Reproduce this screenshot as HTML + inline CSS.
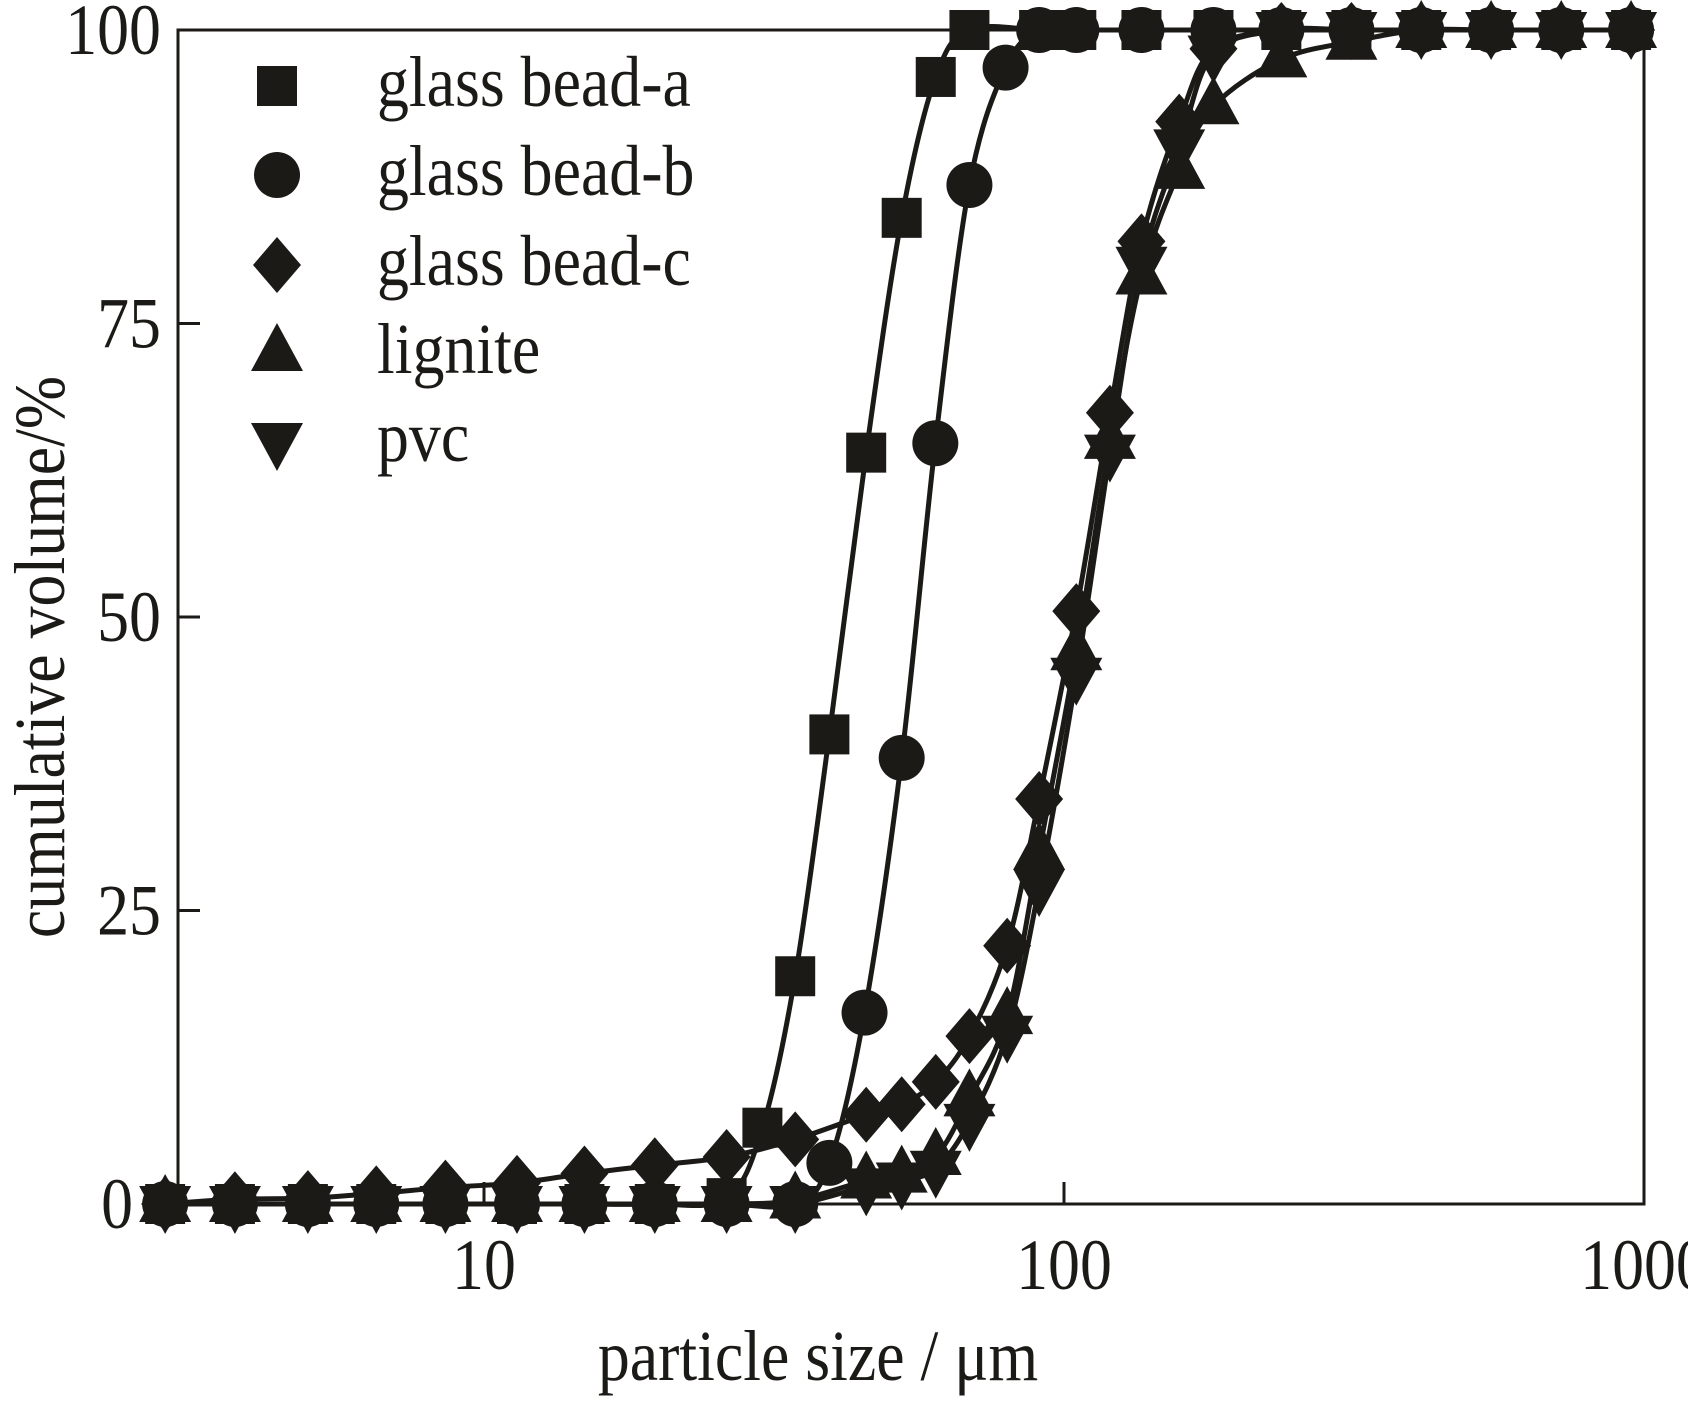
<!DOCTYPE html>
<html><head><meta charset="utf-8">
<style>
html,body{margin:0;padding:0;background:#fff;overflow:hidden}
svg{display:block}
text{font-family:"Liberation Serif",serif;fill:#1c1a17}
</style></head>
<body>
<svg id="chart" width="1688" height="1402" viewBox="0 0 1688 1402" xmlns="http://www.w3.org/2000/svg">
<g id="plot"></g>
<g id="axes">
<rect x="178" y="30" width="1466" height="1174" fill="none" stroke="#1c1a17" stroke-width="3"/>
</g>
<g id="ticks"></g>
<text class="cond" transform="translate(64,657) rotate(-90)" text-anchor="middle" font-size="62">cumulative volume/%</text>
<text class="cond" x="818" y="1380" text-anchor="middle" font-size="62">particle size / μm</text>
<g id="legend"></g>
</svg>
<script>
const xTicks = [10, 100, 1000];
const xTickLabels = ["10", "100", "1000"];
const yTicks = [0, 25, 50, 75, 100];
const yTickLabels = ["0", "25", "50", "75", "100"];
const seriesNames = ["glass bead-a", "glass bead-b", "glass bead-c", "lignite", "pvc"];
const seriesMarkers = ["square", "circle", "diamond", "triangle", "down"];
const sizesA = [2.82,3.72,4.97,6.52,8.58,11.4,14.9,19.7,26.2,30.2,34.4,39.4,45.6,52.5,60.1,68.7,90.6,105,136,181,237,313,413,545,720,950];
const valuesA = [0,0,0,0,0,0,0,0,0.5,6.5,19.4,40,64,84,96,100,100,100,100,100,100,100,100,100,100,100];
const sizesB = [2.82,3.72,4.97,6.52,8.58,11.4,14.9,19.7,26.2,34.4,39.4,45.3,52.5,60,68.7,79.3,90.6,105,136,181,237,313,413,545,720,950];
const valuesB = [0,0,0,0,0,0,0,0,0,0,3.5,16.3,38,64.8,86.8,96.8,100,100,100,100,100,100,100,100,100,100];
const sizesC = [2.82,3.72,4.97,6.52,8.58,11.4,14.9,19.7,26.2,34.4,45.6,52.5,60.1,68.7,79.8,90.6,105,120,136,158,181,237,313,413,545,720,950];
const valuesC = [0,0.4,0.5,0.9,1.4,1.8,2.6,3.3,4,5.5,7.6,8.5,10.4,14.3,22,34.5,50.5,67.4,82,92.2,98.4,100,100,100,100,100,100];
const sizesL = [2.82,3.72,4.97,6.52,8.58,11.4,14.9,19.7,26.2,34.4,45.6,52.5,60.1,68.7,79.8,90.6,105,120,136,158,181,237,313,413,545,720,950];
const valuesL = [0,0,0,0,0,0,0,0,0,0.3,2,2.5,4,9,16,30,47,65,79,88,93.5,97.5,99,100,100,100,100];
const sizesP = [2.82,3.72,4.97,6.52,8.58,11.4,14.9,19.7,26.2,34.4,45.6,52.5,60.1,68.7,79.8,90.6,105,120,136,158,181,237,313,413,545,720,950];
const valuesP = [0,0,0,0,0,0,0,0,0,0,1.5,2,3,7,14.5,27,45,64,80,90,98,100,100,100,100,100,100];

const NS = "http://www.w3.org/2000/svg";
const C = "#1c1a17";
function xs(v){ return 1064 + (Math.log10(v) - 2) * 580; }
function ys(v){ return 1204 - v * 11.74; }
function mk(tag, attrs, parent){ const e = document.createElementNS(NS, tag); for (const k in attrs) e.setAttribute(k, attrs[k]); parent.appendChild(e); return e; }

function marker(type, cx, cy, parent){
  let e;
  if (type === "square") e = mk("rect", {x:cx-20, y:cy-20, width:40, height:40, fill:C}, parent);
  else if (type === "circle") e = mk("circle", {cx:cx, cy:cy, r:23, fill:C}, parent);
  else if (type === "diamond") e = mk("polygon", {points:`${cx},${cy-28} ${cx+24},${cy} ${cx},${cy+28} ${cx-24},${cy}`, fill:C}, parent);
  else if (type === "triangle") e = mk("polygon", {points:`${cx},${cy-30} ${cx+26},${cy+18} ${cx-26},${cy+18}`, fill:C}, parent);
  else e = mk("polygon", {points:`${cx},${cy+30} ${cx+26},${cy-18} ${cx-26},${cy-18}`, fill:C}, parent);
  return e;
}

function smoothPath(pts){
  let d = `M${pts[0][0]},${pts[0][1]}`;
  for (let i = 0; i < pts.length - 1; i++){
    const p0 = pts[Math.max(0,i-1)], p1 = pts[i], p2 = pts[i+1], p3 = pts[Math.min(pts.length-1,i+2)];
    const c1x = p1[0] + (p2[0]-p0[0])/6, c1y = p1[1] + (p2[1]-p0[1])/6;
    const c2x = p2[0] - (p3[0]-p1[0])/6, c2y = p2[1] - (p3[1]-p1[1])/6;
    d += ` C${c1x},${c1y} ${c2x},${c2y} ${p2[0]},${p2[1]}`;
  }
  return d;
}

const plot = document.getElementById("plot");
const allSizes = [sizesA, sizesB, sizesC, sizesL, sizesP];
const allValues = [valuesA, valuesB, valuesC, valuesL, valuesP];
for (let s = 0; s < 5; s++){
  const g = mk("g", {}, plot);
  
  
  const pts = allSizes[s].map((x,i) => [xs(x), ys(allValues[s][i])]);
  const line = mk("path", {d:smoothPath(pts), fill:"none", stroke:C, "stroke-width":5}, g);
  
  
  pts.forEach(p => {
    const m = marker(seriesMarkers[s], p[0], p[1], g);
    
    
  });
}

const ticks = document.getElementById("ticks");
xTicks.forEach((t,i) => {
  const x = xs(t);
  if (t < 1000){
    const l = mk("line", {x1:x, x2:x, y1:1204, y2:1182, stroke:C, "stroke-width":3}, ticks);
    
    
  }
  const tx = mk("text", {x:x, y:1289, "text-anchor":"middle", "font-size":62, "class":"cond"}, ticks);
  
  
  tx.textContent = xTickLabels[i];
});
yTicks.forEach((t,i) => {
  const y = ys(t);
  if (t > 0 && t < 100){
    const l = mk("line", {x1:178, x2:200, y1:y, y2:y, stroke:C, "stroke-width":3}, ticks);
    
    
  }
  const tx = mk("text", {x: t === 0 ? 133 : 161, y:y+24, "text-anchor":"end", "font-size":62, "class":"cond"}, ticks);
  
  
  tx.textContent = yTickLabels[i];
});

const legend = document.getElementById("legend");
const legendY = [86, 175, 265, 353, 441];
for (let s = 0; s < 5; s++){
  const g = mk("g", {}, legend);
  
  
  marker(seriesMarkers[s], 277, legendY[s], g);
  const tx = mk("text", {x:377, y:legendY[s]+20, "font-size":62, "class":"cond"}, g);
  tx.textContent = seriesNames[s];
}

// make text taller but keep widths (condensed look of reference)
document.querySelectorAll("text.cond").forEach(t => {
  const w = t.getComputedTextLength();
  t.setAttribute("font-size", 72);
  t.setAttribute("textLength", (w * 1.03).toFixed(1));
  t.setAttribute("lengthAdjust", "spacingAndGlyphs");
});
</script>
</body></html>
